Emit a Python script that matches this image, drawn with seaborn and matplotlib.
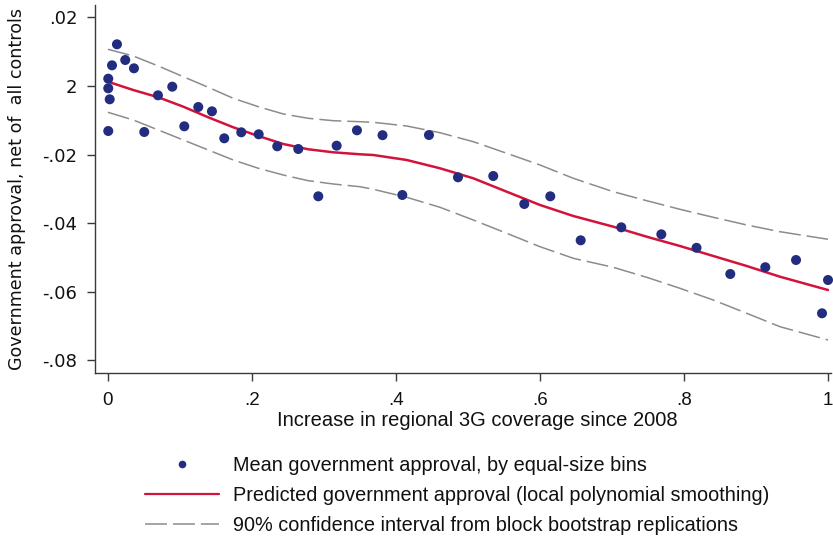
import matplotlib
matplotlib.use("Agg")
import matplotlib.pyplot as plt
import seaborn as sns
import pandas as pd
from matplotlib.lines import Line2D

# ---- data ----
bin_x = [0.0004, 0.0004, 0.0024, 0.0004, 0.0056, 0.0125, 0.0240, 0.0361, 0.0504, 0.0694,
         0.0893, 0.1060, 0.1254, 0.1444, 0.1615, 0.1851, 0.2093, 0.2351, 0.2643, 0.2921,
         0.3176, 0.3458, 0.3813, 0.4088, 0.4458, 0.4861, 0.5351, 0.5782, 0.6143, 0.6565,
         0.7129, 0.7685, 0.8174, 0.8643, 0.9129, 0.9556, 0.9917, 1.0000]
bin_y = [0.00213, -0.00067, -0.00388, -0.01312, 0.00603, 0.01216, 0.00758, 0.00516, -0.01341, -0.00271,
         -0.00020, -0.01175, -0.00612, -0.00738, -0.01525, -0.01350, -0.01408, -0.01758, -0.01837, -0.03216,
         -0.01740, -0.01292, -0.01434, -0.03178, -0.01429, -0.02662, -0.02624, -0.03440, -0.03216, -0.04499,
         -0.04120, -0.04324, -0.04717, -0.05481, -0.05283, -0.05073, -0.06627, -0.05656]

fit_x = [0.0, 0.0351, 0.0699, 0.1046, 0.1393, 0.1740, 0.2088, 0.2435, 0.2782, 0.3129,
         0.3500, 0.3685, 0.4149, 0.4611, 0.5074, 0.5538, 0.6000, 0.6463, 0.7018, 0.7482,
         0.7944, 0.8407, 0.8871, 0.9333, 1.0]
fit_y = [0.00125, -0.00117, -0.00329, -0.00603, -0.00913, -0.01204, -0.01458, -0.01691, -0.01845, -0.01933,
         -0.01991, -0.02012, -0.02157, -0.02399, -0.02691, -0.03082, -0.03469, -0.03790, -0.04102, -0.04394,
         -0.04665, -0.04956, -0.05248, -0.05560, -0.05948]
ci_upper = [0.01070, 0.00875, 0.00583, 0.00271, -0.00038, -0.00359, -0.00603, -0.00816, -0.00942, -0.01012,
            -0.01041, -0.01058, -0.01166, -0.01362, -0.01624, -0.01962, -0.02303, -0.02691, -0.03082, -0.03344,
            -0.03595, -0.03828, -0.04052, -0.04248, -0.04469]
ci_lower = [-0.00767, -0.00991, -0.01283, -0.01574, -0.01866, -0.02157, -0.02399, -0.02595, -0.02761, -0.02857,
            -0.02936, -0.03012, -0.03245, -0.03536, -0.03907, -0.04294, -0.04685, -0.05023, -0.05286, -0.05577,
            -0.05898, -0.06239, -0.06627, -0.07017, -0.07405]

x_ticks = [0, 0.2, 0.4, 0.6, 0.8, 1.0]
x_tick_labels = ["0", ".2", ".4", ".6", ".8", "1"]
y_ticks = [0.02, 0.0, -0.02, -0.04, -0.06, -0.08]
y_tick_labels = [".02", "2", "-.02", "-.04", "-.06", "-.08"]

x_title = "Increase in regional 3G coverage since 2008"
y_title = "Government approval, net of  all controls"
legend_labels = ["Mean government approval, by equal-size bins",
                 "Predicted government approval (local polynomial smoothing)",
                 "90% confidence interval from block bootstrap replications"]

NAVY = "#232D80"
RED = "#D2143C"
GRAY = "#8C8C8C"
AXCOL = "#3A3A3A"
TXT = "#111111"

sns.set_theme(style="white")
plt.rcParams['font.family'] = ['Liberation Sans', 'DejaVu Sans']

W, H = 833, 538
fig = plt.figure(figsize=(W / 100, H / 100), dpi=100)
left, right, top, bottom = 95.3, 831.0, 5.0, 372.7
ax = fig.add_axes([left / W, 1 - bottom / H, (right - left) / W, (bottom - top) / H])

bins = pd.DataFrame({"x": bin_x, "y": bin_y})
curves = pd.DataFrame({"x": fit_x, "fit": fit_y, "upper": ci_upper, "lower": ci_lower})

dash = (0, (14.4, 3.9))
for col in ["upper", "lower"]:
    sns.lineplot(data=curves, x="x", y=col, ax=ax, color=GRAY, linewidth=1.1,
                 estimator=None, sort=False, linestyle=dash, zorder=2)
sns.lineplot(data=curves, x="x", y="fit", ax=ax, color=RED, linewidth=1.8,
             estimator=None, sort=False, zorder=3)
sns.scatterplot(data=bins, x="x", y="y", ax=ax, color=NAVY, s=52, edgecolor="none",
                linewidth=0, zorder=4, clip_on=False)

ax.set_xlim(-0.0176, (right - 108) / 720)
ax.set_ylim((86 - bottom) / 3430, (86 - top) / 3430)

ax.set_xticks(x_ticks)
ax.set_xticklabels(x_tick_labels, fontsize=13.5, color=TXT)
ax.set_yticks(y_ticks)
ax.set_yticklabels(y_tick_labels, fontsize=13, color=TXT, family=['DejaVu Sans'])

ax.tick_params(axis="x", direction="out", length=6, width=1.0, color=AXCOL, pad=8, bottom=True)
ax.tick_params(axis="y", direction="out", length=6, width=1.0, color=AXCOL, pad=7, left=True)

for s in ["top", "right"]:
    ax.spines[s].set_visible(False)
for s in ["left", "bottom"]:
    ax.spines[s].set_color(AXCOL)
    ax.spines[s].set_linewidth(1.0)

ax.set_xlabel(x_title, fontsize=14.5, color=TXT)
ax.xaxis.set_label_coords((477.7 - left) / (right - left), -(421 - bottom) / (bottom - top))
ax.xaxis.label.set_va("center")
ax.set_ylabel(y_title, fontsize=12.6, color=TXT, family=['DejaVu Sans'])
ax.yaxis.set_label_coords(-(left - 17.5) / (right - left), 0.5)
ax.yaxis.label.set_va("center")

handles = [
    Line2D([], [], marker="o", linestyle="", color=NAVY, markersize=5.5, markeredgewidth=0),
    Line2D([], [], color=RED, linewidth=1.6),
    Line2D([], [], color=GRAY, linewidth=1.1, linestyle=dash),
]
fig.legend(handles, legend_labels, loc="upper left",
           bbox_to_anchor=(144.5 / W, 1 - 456 / H), frameon=False,
           borderpad=0, borderaxespad=0, handlelength=3.75, handletextpad=0.70,
           labelspacing=0.55, fontsize=14.3, labelcolor=TXT)

fig.savefig("out.png", dpi=100)
